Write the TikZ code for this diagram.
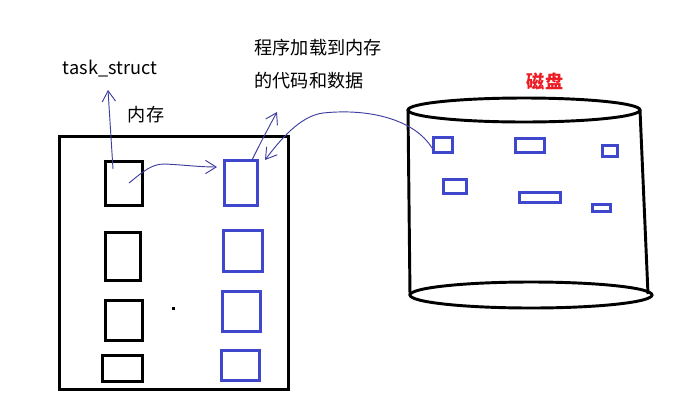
\documentclass[tikz,border=0pt]{standalone}
\usepackage{fontspec}
\setmainfont{Noto Sans CJK SC}
\usepackage{tikz}
\usetikzlibrary{arrows.meta}
\definecolor{boxblue}{RGB}{63, 72, 204}
\definecolor{penblue}{RGB}{62, 62, 160}
\definecolor{diskred}{RGB}{237, 28, 36}

\tikzset{
	pagebox/.style={draw=black, line width=2.2pt, inner sep=0pt},
	codebox/.style={draw=boxblue, line width=2.2pt, inner sep=0pt},
	blockbox/.style={draw=boxblue, line width=2pt, inner sep=0pt},
	pen/.style={penblue, line width=0.7pt, -{Straight Barb[length=8pt, width=10pt, line width=0.7pt]}},
}

\begin{document}
\begin{tikzpicture}[x=0.75pt, y=-0.75pt, font=\fontsize{13.6pt}{16pt}\selectfont]
	\useasboundingbox (0,0) rectangle (676,412);
	% memory
	\node[pagebox, minimum width=171.75pt, minimum height=189.75pt] (mem) at (174,263) {};
	\foreach \n/\cx/\cy/\w/\h in {tb1/124/183.5/37/44, tb2/123/256.5/35/48, tb3/124/320.5/37/40, tb4/122.5/368.5/40/26} {
		\node[pagebox, minimum width=\w*0.75pt, minimum height=\h*0.75pt] (\n) at (\cx,\cy) {};
	}
	\foreach \n/\cx/\cy/\w/\h in {cb1/241/183/33/45, cb2/243/251/39/41, cb3/241.5/311.5/38/40, cb4/240.5/365.5/38/30} {
		\node[codebox, minimum width=\w*0.75pt, minimum height=\h*0.75pt] (\n) at (\cx,\cy) {};
	}
	\fill (171.5,306.5) rectangle (174.5,309.5);
	\node (nc) at (146,115) {内存};
	\node (ts) at (110,69) {task\_struct};
	\node[anchor=west] (ld1) at (250,48) {程序加载到内存};
	\node[anchor=west] (ld2) at (250,81) {的代码和数据};
	% disk
	\draw[line width=2.2pt] (524,110) ellipse [x radius=116, y radius=12];
	\draw[line width=2.2pt] (531,295) ellipse [x radius=121, y radius=13];
	\draw[line width=2.2pt] (408,110) -- (410,295);
	\draw[line width=2.2pt] (640,110) -- (648,294);
	\node[text=diskred, font=\fontsize{13.6pt}{16pt}\selectfont\bfseries] (dk) at (545,81) {磁盘};
	\foreach \n/\cx/\cy/\w/\h in {d1/443/145/19/15, d2/530/145.5/29/14, d3/610/151/15/11, d4/455/186.5/23/14, d5/540/197.5/41/10, d6/601.5/208/18/7} {
		\node[blockbox, minimum width=\w*0.75pt, minimum height=\h*0.75pt] (\n) at (\cx,\cy) {};
	}
	% hand drawn arrows
	\coordinate (tsin) at (113,169);
	\coordinate (tsout) at (108,90);
	\coordinate (cpin) at (129,183);
	\coordinate (cpout) at (217,167);
	\coordinate (upin) at (252,160);
	\coordinate (upout) at (277,112);
	\coordinate (ldin) at (432,148);
	\coordinate (ldout) at (265,160);
	\draw[pen] (tsin) .. controls (111,130) .. (tsout);
	\draw[pen] (cpin) .. controls (145,170) and (152,164) .. (165,164) .. controls (185,165) and (200,167) .. (cpout);
	\draw[pen] (upin) .. controls (263,138) .. (upout);
	\draw[pen] (ldin) .. controls (415,120) and (370,108) .. (323,113) .. controls (300,116) and (280,140) .. (ldout);
\end{tikzpicture}
\end{document}
